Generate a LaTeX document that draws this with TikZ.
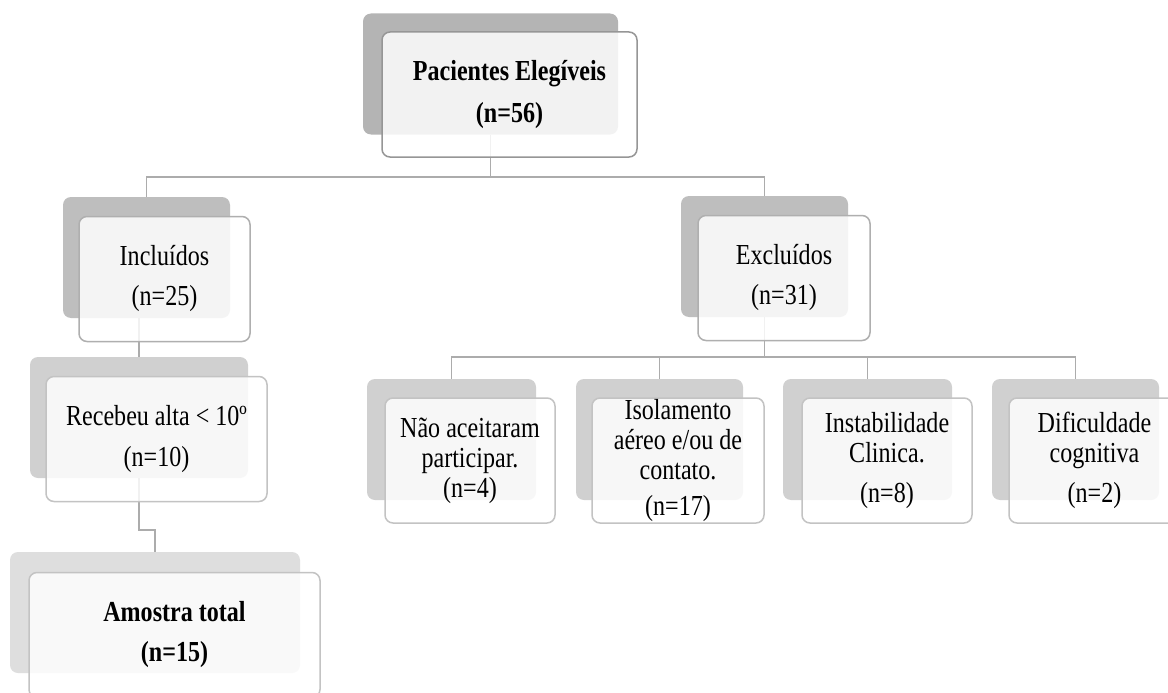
\documentclass[tikz,border=0pt]{standalone}
\usepackage{fontspec}
\setmainfont{Liberation Serif}[FakeStretch=0.83]
\definecolor{shadeA}{RGB}{180,180,180}
\definecolor{shadeB}{RGB}{190,190,190}
\definecolor{shadeC}{RGB}{208,208,208}
\definecolor{shadeD}{RGB}{222,222,222}
\definecolor{rimA}{RGB}{150,150,150}
\definecolor{rimB}{RGB}{175,175,175}
\definecolor{rimC}{RGB}{195,195,195}
\definecolor{linkgray}{RGB}{172,172,172}
\tikzset{
  back/.style={rounded corners=8pt, inner sep=0pt, minimum height=121pt},
  card/.style={draw=rimC, line width=1.5pt, rounded corners=8pt, fill=white,
    fill opacity=0.84, text opacity=1, inner sep=0pt, align=center,
    minimum height=125pt, font=\fontsize{29}{30}\selectfont},
  link/.style={draw=linkgray, line width=1.6pt},
}
\begin{document}
\begin{tikzpicture}[x=1pt,y=-1pt]
\clip (0,0) rectangle (1168,693);
\fill[white] (0,0) rectangle (1168,693);
% shadows
\node[back, fill=shadeA, minimum width=255pt] (elegS) at (490.5,74) {};
\node[back, fill=shadeB, minimum width=167pt] (inclS) at (146.5,257.5) {};
\node[back, fill=shadeB, minimum width=167pt] (exclS) at (764.5,256.5) {};
\node[back, fill=shadeC, minimum width=218pt] (recebS) at (139,417.5) {};
\node[back, fill=shadeD, minimum width=290pt] (amostraS) at (155,612.5) {};
\node[back, fill=shadeC, minimum width=169pt] (naoS) at (451.5,439.5) {};
\node[back, fill=shadeC, minimum width=167pt] (isoS) at (659.5,439.5) {};
\node[back, fill=shadeC, minimum width=169pt] (instS) at (867.5,439.5) {};
\node[back, fill=shadeC, minimum width=167pt] (difS) at (1075.5,439.5) {};
% connectors
\coordinate (bar1) at (0,177);
\coordinate (bar2) at (0,357);
\coordinate (bend) at (0,530);
\draw[link] (elegS.south) -- (elegS.south |- bar1) -| (inclS.north);
\draw[link] (elegS.south |- bar1) -| (exclS.north);
\draw[link] (inclS.south -| recebS.north) -- (recebS.north);
\draw[link] (recebS.south) -- (recebS.south |- bend) -| (amostraS.north);
\foreach \k in {naoS,isoS,instS,difS}
  \draw[link] (exclS.south) -- (exclS.south |- bar2) -| (\k.north);
% boxes
\node[card, draw=rimA, minimum width=255pt] (eleg) at (509.5,94.5)
  {\textbf{Pacientes Elegíveis}\\[12pt]\textbf{(n=56)}};
\node[card, draw=rimB, minimum width=171pt] (incl) at (164.5,279)
  {Incluídos\\[10pt](n=25)};
\node[card, draw=rimB, minimum width=172pt] (excl) at (784,278)
  {Excluídos\\[10pt](n=31)};
\node[card, minimum width=221pt] (receb) at (156.5,439)
  {Recebeu alta < 10º\\[11pt](n=10)};
\node[card, minimum width=291pt] (amostra) at (174.5,635)
  {\textbf{Amostra total}\\[10pt]\textbf{(n=15)}};
\node[card, minimum width=170pt] (nao) at (470,460.5)
  {Não aceitaram\\participar.\\(n=4)};
\node[card, minimum width=172pt] (iso) at (678,460.5)
  {Isolamento\\aéreo e/ou de\\contato.\\[6pt](n=17)};
\node[card, minimum width=170pt] (inst) at (887,460.5)
  {Instabilidade\\Clinica.\\[10pt](n=8)};
\node[card, minimum width=171pt] (dif) at (1094.5,460.5)
  {Dificuldade\\cognitiva\\[10pt](n=2)};
\end{tikzpicture}
\end{document}
